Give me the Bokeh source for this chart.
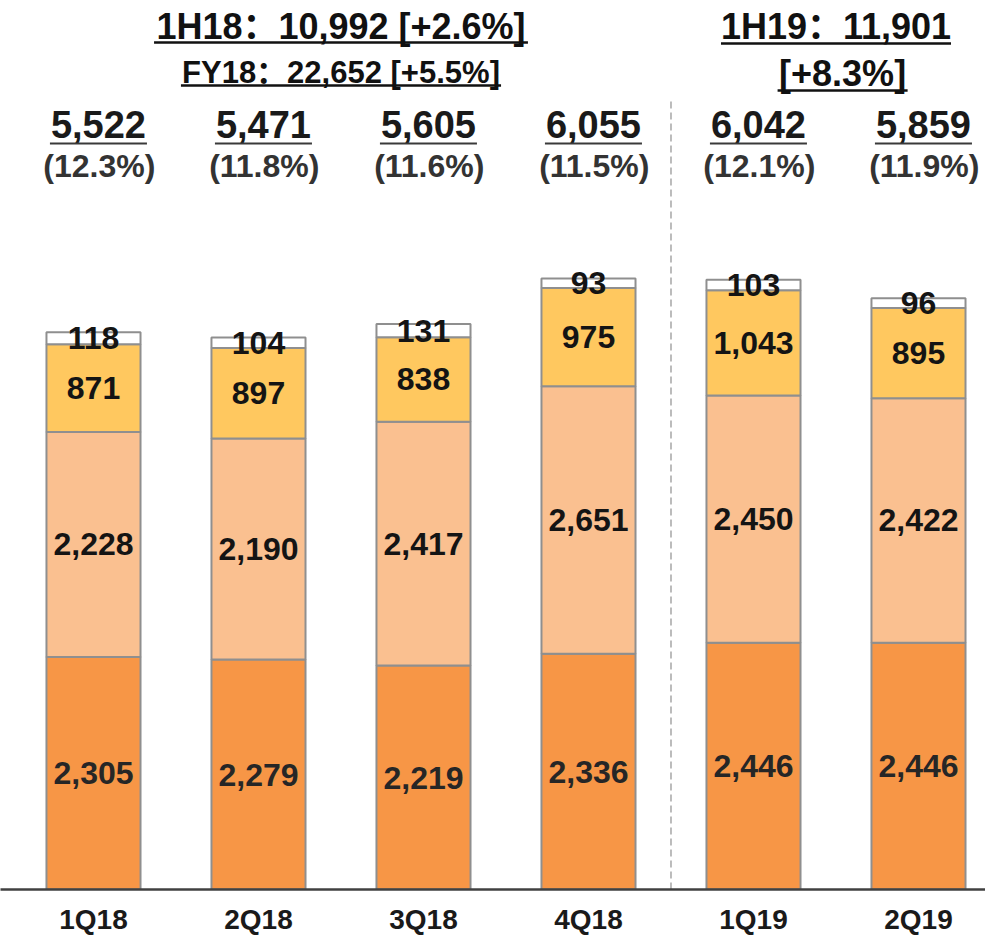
from bokeh.plotting import figure
from bokeh.models import ColumnDataSource, FixedTicker
from bokeh.core.properties import value
from bokeh.embed import file_html
from bokeh.resources import INLINE

# ---------------- data ----------------
quarters = ["1Q18", "2Q18", "3Q18", "4Q18", "1Q19", "2Q19"]
seg_bottom = [2305, 2279, 2219, 2336, 2446, 2446]
seg_second = [2228, 2190, 2417, 2651, 2450, 2422]
seg_third = [871, 897, 838, 975, 1043, 895]
seg_top = [118, 104, 131, 93, 103, 96]
totals = [5522, 5471, 5605, 6055, 6042, 5859]
margins = ["12.3%", "11.8%", "11.6%", "11.5%", "12.1%", "11.9%"]

fy18_group = [0, 1, 2, 3]
fy19_group = [4, 5]
title_1h18 = "1H18：10,992 [+2.6%]"
title_fy18 = "FY18：22,652 [+5.5%]"
title_1h19_a = "1H19：11,901"
title_1h19_b = "[+8.3%]"

# ---------------- styles ----------------
colors = ["#F79646", "#FAC090", "#FFC85F", "#FFFFFF"]
FONT = "Liberation Sans, Noto Sans CJK SC"
BAR_W = 0.57

n = len(quarters)
xs = list(range(n))

p = figure(width=985, height=937, x_range=(-0.5636, 5.4061), y_range=(0, 8810),
           output_backend="svg", toolbar_location=None,
           min_border_left=0, min_border_right=0, min_border_top=0,
           min_border_bottom=48)
p.yaxis.visible = False
p.grid.visible = False
p.outline_line_color = None
p.background_fill_color = "white"

src = ColumnDataSource(dict(x=xs, s1=seg_bottom, s2=seg_second, s3=seg_third, s4=seg_top))
p.vbar_stack(["s1", "s2", "s3", "s4"], x="x", width=BAR_W, fill_color=colors,
             line_color="#8f8f8f", line_width=2, source=src)

# segment labels centred in each segment
lx, ly, lt, lc = [], [], [], []
for i in xs:
    base = 0
    for k, seg in enumerate((seg_bottom, seg_second, seg_third, seg_top)):
        v = seg[i]
        lx.append(i)
        ly.append(base + v / 2)
        lt.append(f"{v:,}")
        lc.append("#262626" if k == 0 else "#141414")
        base += v
p.text(x=lx, y=ly, text=lt, text_font=value("Liberation Sans"), text_font_style="bold",
       text_font_size="32px", text_align="center", text_baseline="middle",
       text_color=lc)

# totals with underline
hx = [i + 0.03 for i in xs]
p.text(x=hx, y=[7586] * n, text=[f"{t:,}" for t in totals],
       text_font=value("Liberation Sans"), text_font_style="bold",
       text_font_size="38px", text_align="center", text_baseline="middle",
       text_color="#1a1a1a")
p.segment(x0=[x - 0.294 for x in hx], y0=[7394] * n, x1=[x + 0.294 for x in hx],
          y1=[7394] * n, line_color="#3a3a3a", line_width=2)

# margin percentages
p.text(x=[i + 0.035 for i in xs], y=[7170] * n, text=[f"({m})" for m in margins],
       text_font=value("Liberation Sans"), text_font_style="bold", text_font_size="32px",
       text_align="center", text_baseline="middle", text_color="#333333")

# group titles
g1 = sum(fy18_group) / len(fy18_group)
g2 = sum(fy19_group) / len(fy19_group)
p.text(x=[g1, g2], y=[8557, 8557], text=[title_1h18, title_1h19_a],
       text_font=value(FONT), text_font_style="bold", text_font_size="36px",
       text_align="center", text_baseline="middle", text_color="#111111")
p.text(x=[g1], y=[8096], text=[title_fy18],
       text_font=value(FONT), text_font_style="bold", text_font_size="31px",
       text_align="center", text_baseline="middle", text_color="#111111")
p.text(x=[g2 + 0.04], y=[8091], text=[title_1h19_b],
       text_font=value(FONT), text_font_style="bold", text_font_size="36px",
       text_align="center", text_baseline="middle", text_color="#111111")
p.segment(x0=[g1 - 1.133, g1 - 0.97, g2 - 0.697, g2 + 0.04 - 0.394],
          y0=[8394, 7968, 8384, 7919],
          x1=[g1 + 1.133, g1 + 0.97, g2 + 0.697, g2 + 0.04 + 0.394],
          y1=[8394, 7968, 8384, 7919],
          line_color="#111111", line_width=2.5)

# divider between fiscal years
div_x = (fy18_group[-1] + fy19_group[0]) / 2
p.segment(x0=[div_x], y0=[0], x1=[div_x], y1=[7849], line_color="#a6a6a6",
          line_width=1.5, line_dash="7 4")

# x axis
p.xaxis.ticker = FixedTicker(ticks=xs)
p.xaxis.major_label_overrides = {i: q for i, q in enumerate(quarters)}
p.xaxis.major_tick_line_color = None
p.xaxis.minor_tick_line_color = None
p.xaxis.axis_line_color = "#404040"
p.xaxis.axis_line_width = 2.5
p.xaxis.major_label_standoff = 8
p.xaxis.major_label_text_font = "Liberation Sans"
p.xaxis.major_label_text_font_style = "bold"
p.xaxis.major_label_text_font_size = "28px"
p.xaxis.major_label_text_color = "#1a1a1a"

open("out.html", "w").write(file_html(p, INLINE))
